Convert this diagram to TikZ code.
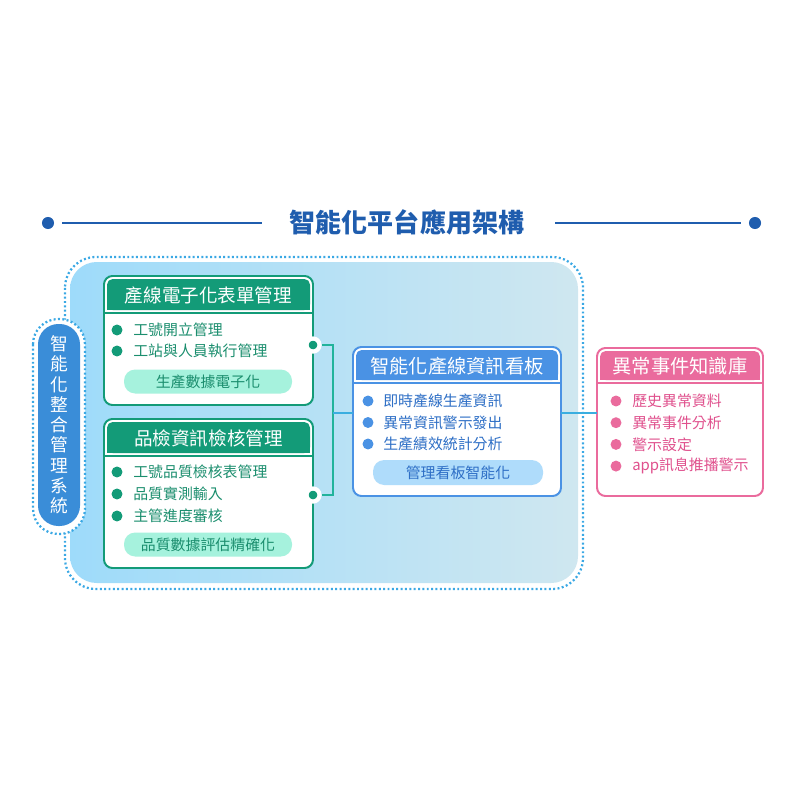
\documentclass[tikz,border=0pt]{standalone}
\usepackage{fontspec}
\setmainfont{Noto Sans CJK TC}
\definecolor{titleblue}{HTML}{1F5DAE}
\definecolor{framedot}{HTML}{3AA8E4}
\definecolor{frameL}{HTML}{9EDBFA}
\definecolor{frameR}{HTML}{CFE7F0}
\definecolor{sysblue}{HTML}{3A8DD8}
\definecolor{grn}{HTML}{139B78}
\definecolor{grntext}{HTML}{1B8E6E}
\definecolor{mint}{HTML}{A6F2DD}
\definecolor{brd}{HTML}{4A92E4}
\definecolor{brdtext}{HTML}{2E6FC6}
\definecolor{brdpill}{HTML}{AFDCFB}
\definecolor{pnk}{HTML}{EA6B9D}
\definecolor{pnktext}{HTML}{E0508D}
\definecolor{linkteal}{HTML}{22B39B}
\definecolor{linkblue}{HTML}{3AAEE0}
\newcommand\pxu{0.025cm}
\newcommand\itemfont{\fontsize{10.6}{12}\selectfont}
\newcommand\headfont{\fontsize{13.2}{15}\selectfont}
\newcommand\titlefont{\fontsize{18.5}{20}\selectfont\bfseries}
\tikzset{
  card/.style={draw=#1, line width=1.4pt, fill=white, rounded corners=6pt, inner sep=0pt, outer sep=0pt},
  head/.style={text=white, font=\headfont, inner sep=0pt},
  item/.style={anchor=west, inner sep=0pt, font=\itemfont},
  pill/.style={fill=#1, rounded corners=8pt, inner sep=0pt, minimum width=168*\pxu, minimum height=24*\pxu, font=\itemfont},
  jdot/.style={circle, fill=grn, draw=white, line width=3pt, inner sep=0pt, minimum size=13*\pxu},
  ringdots/.style={draw=framedot, line width=1.6pt, dash pattern=on 1.4pt off 1.7pt},
  link/.style={line width=1.4pt, draw=#1}
}
\begin{document}
\begin{tikzpicture}[x=0.025cm, y=-0.025cm]
\useasboundingbox (0,0) rectangle (800,800);

% title bar
\node[font=\titlefont, text=titleblue] (title) at (407,222) {智能化平台應用架構};
\fill[titleblue] (48,223) circle (4.3pt);
\fill[titleblue] (755,223) circle (4.3pt);
\draw[titleblue, line width=1.4pt] (62,223) -- (262,223);
\draw[titleblue, line width=1.4pt] (555,223) -- (741,223);

% frame and side label
\shade[left color=frameL, right color=frameR, rounded corners=19pt] (70,262) rectangle (578,583);
\draw[ringdots, rounded corners=22pt] (65,257) rectangle (583,589);
\draw[ringdots, fill=white, rounded corners=18pt] (33,319) rectangle (85,534);
\node[fill=sysblue, rounded corners=14.5pt, minimum width=42*\pxu, minimum height=202*\pxu,
      text=white, align=center, font=\fontsize{12.6}{14.4}\selectfont] (sys) at (59,425)
      {智\\能\\化\\整\\合\\管\\理\\系\\統};

% card 1
\node[card=grn, minimum width=209*\pxu, minimum height=129*\pxu] (form) at (208.5,340.5) {};
\fill[grn, rounded corners=4pt] (107,279) rectangle (310,310);
\fill[grn] (107,300) rectangle (310,310);
\draw[grn, line width=1.2pt] (104,313) -- (313,313);
\node[head] (formh) at (208.5,295) {產線電子化表單管理};
\foreach \t [count=\i] in {工號開立管理,工站與人員執行管理}{
  \fill[grn] (117,{330+21*(\i-1)}) circle (3.9pt);
  \node[item, text=grntext] (formi\i) at (133,{330+21*(\i-1)}) {\t};
}
\node[pill=mint, text=grntext] (formp) at (208,381.5) {生產數據電子化};

% card 2
\node[card=grn, minimum width=209*\pxu, minimum height=149*\pxu] (qc) at (208.5,493.5) {};
\fill[grn, rounded corners=4pt] (107,422) rectangle (310,453);
\fill[grn] (107,443) rectangle (310,453);
\draw[grn, line width=1.2pt] (104,456) -- (313,456);
\node[head] (qch) at (208.5,438) {品檢資訊檢核管理};
\foreach \t [count=\i] in {工號品質檢核表管理,品質實測輸入,主管進度審核}{
  \fill[grn] (117,{472+22*(\i-1)}) circle (3.9pt);
  \node[item, text=grntext] (qci\i) at (133,{472+22*(\i-1)}) {\t};
}
\node[pill=mint, text=grntext] (qcp) at (208,544.5) {品質數據評估精確化};

% card 3
\node[card=brd, minimum width=208*\pxu, minimum height=149*\pxu] (board) at (457,421.5) {};
\fill[brd, rounded corners=4pt] (356,350) rectangle (558,380);
\fill[brd] (356,370) rectangle (558,380);
\draw[brd, line width=1.2pt] (353,383) -- (561,383);
\node[head, font=\fontsize{13.7}{15}\selectfont] (boardh) at (457,366) {智能化產線資訊看板};
\foreach \t [count=\i] in {即時產線生產資訊,異常資訊警示發出,生產績效統計分析}{
  \fill[brd] (368,{401+21.5*(\i-1)}) circle (3.9pt);
  \node[item, text=brdtext] (boardi\i) at (383,{401+21.5*(\i-1)}) {\t};
}
\node[pill=brdpill, text=brdtext, minimum width=170*\pxu, minimum height=25*\pxu] (boardp) at (458,472.5) {管理看板智能化};

% card 4
\node[card=pnk, minimum width=166*\pxu, minimum height=148*\pxu] (kb) at (680,422) {};
\fill[pnk, rounded corners=4pt] (600,351) rectangle (760,380);
\fill[pnk] (600,370) rectangle (760,380);
\draw[pnk, line width=1.2pt] (597,383) -- (763,383);
\node[head, font=\fontsize{13.7}{15}\selectfont] (kbh) at (680,366) {異常事件知識庫};
\foreach \t [count=\i] in {歷史異常資料,異常事件分析,警示設定,app訊息推播警示}{
  \fill[pnk] (616,{401+21.7*(\i-1)}) circle (3.9pt);
  \node[item, text=pnktext] (kbi\i) at (632,{401+21.7*(\i-1)}) {\t};
}

% links
\coordinate (hub) at (333,413);
\node[jdot] (formdot) at (313,345) {};
\node[jdot] (qcdot) at (313,495) {};
\draw[link=linkteal] (formdot) -| (hub);
\draw[link=linkteal] (qcdot) -| (hub);
\draw[link=linkblue] (hub) -- (hub -| board.west);
\draw[link=linkblue] (board.east |- hub) -- (kb.west |- hub);
\end{tikzpicture}
\end{document}
